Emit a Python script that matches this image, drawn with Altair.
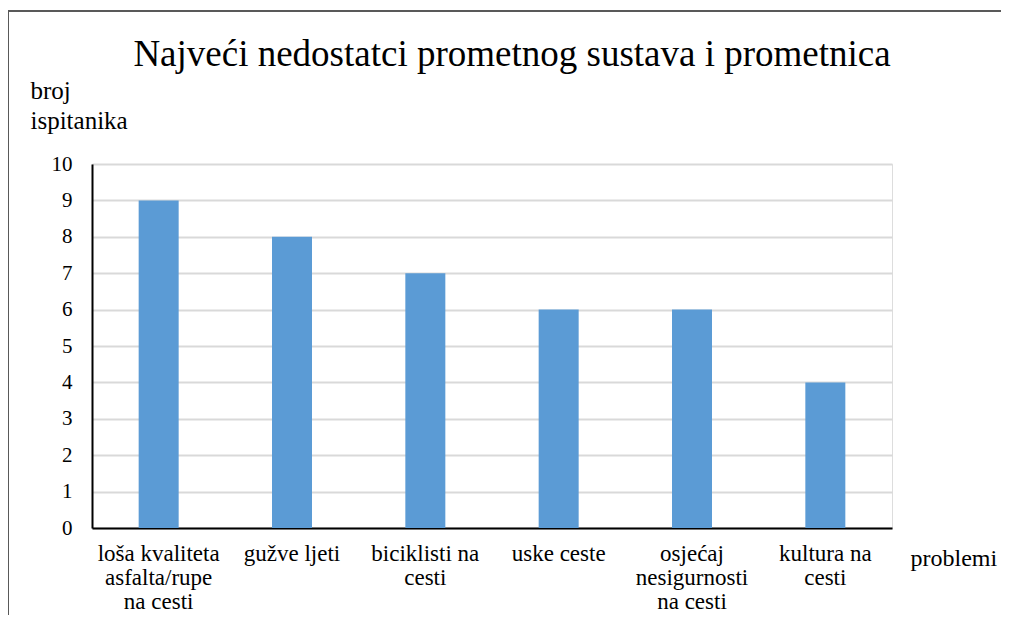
import altair as alt
import pandas as pd

title_text = ["Najveći nedostatci prometnog sustava i prometnica"]
categories = [
    "loša kvaliteta|asfalta/rupe|na cesti",
    "gužve ljeti",
    "biciklisti na|cesti",
    "uske ceste",
    "osjećaj|nesigurnosti|na cesti",
    "kultura na|cesti",
]
values = [9, 8, 7, 6, 6, 4]
y_ticks = list(range(0, 11))

df = pd.DataFrame({"problem": categories, "broj": values})
title_df = pd.DataFrame({"t": title_text})
FONT = "Liberation Serif"

bars = alt.Chart(df).mark_bar(color="#5B9BD5").encode(
    x=alt.X(
        "problem:N",
        sort=None,
        scale=alt.Scale(paddingInner=0.7, paddingOuter=0.35),
        axis=alt.Axis(
            title="problemi",
            labelExpr="split(datum.label, '|')",
            labelAngle=0,
            labelFont=FONT,
            labelFontSize=23,
            labelColor="black",
            labelLineHeight=24,
            labelPadding=14,
            labelLimit=300,
            ticks=False,
            domainColor="black",
            domainWidth=2,
            titleFont=FONT,
            titleFontSize=24,
            titleFontWeight="normal",
            titleColor="black",
            titleAlign="left",
            titleAnchor="start",
            titleX=818,
            titleY=37,
            titleBaseline="alphabetic",
        ),
    ),
    y=alt.Y(
        "broj:Q",
        scale=alt.Scale(domain=[0, 10]),
        axis=alt.Axis(
            values=y_ticks,
            title=["broj", "ispitanika"],
            titleAngle=0,
            titleAlign="left",
            titleBaseline="top",
            titleX=-62,
            titleY=-86,
            titleFont=FONT,
            titleFontSize=25,
            titleFontWeight="normal",
            titleColor="black",
            titleLineHeight=30,
            labelFont=FONT,
            labelFontSize=21,
            labelColor="black",
            labelPadding=20,
            ticks=False,
            domainColor="black",
            domainWidth=2,
            gridColor="#d9d9d9",
            gridWidth=2,
        ),
    ),
)

title_mark = alt.Chart(title_df).mark_text(
    font=FONT, fontSize=37, color="black", align="center", baseline="alphabetic"
).encode(text="t:N", x=alt.value(420), y=alt.value(-98))

frame_v = alt.Chart(df).mark_rule(color="#595959", strokeWidth=2).encode(
    x=alt.value(-84), y=alt.value(-153), y2=alt.value(470)
)
frame_h = alt.Chart(df).mark_rule(color="#595959", strokeWidth=2).encode(
    x=alt.value(-85), x2=alt.value(930), y=alt.value(-153)
)

chart = (
    alt.layer(frame_v, frame_h, bars, title_mark)
    .properties(
        width=800,
        height=364,
        autosize=alt.AutoSizeParams(type="none"),
        padding={"left": 84, "top": 156, "right": 109, "bottom": 87},
    )
    .configure_view(stroke=None)
    .configure(background="white", font=FONT)
)

chart.save("out.html", embed_options={"renderer": "svg", "actions": False})
